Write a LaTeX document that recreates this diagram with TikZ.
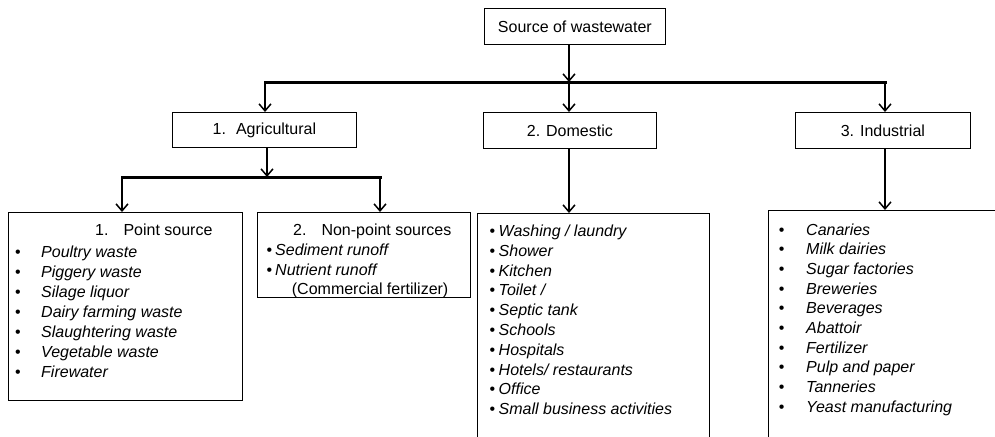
\documentclass[tikz,border=0pt]{standalone}
\usepackage{fontspec}
\setmainfont{Liberation Sans}
\usetikzlibrary{arrows.meta}
\begin{document}
\begin{tikzpicture}[x=1pt,y=-1pt,
  box/.style={draw, line width=0.8pt, inner sep=0pt, anchor=north west},
  lbl/.style={font=\fontsize{16}{19}\selectfont, inner sep=0pt},
  conn/.style={line width=1.5pt, -{Straight Barb[length=7pt,width=12pt]}},
  bar/.style={line width=3pt, line cap=rect},
  item/.style={lbl, anchor=base west},
  dot/.style={lbl, anchor=base},
]
\useasboundingbox (0,0) rectangle (995,436);
\clip (0,0) rectangle (995,436);

% top level
\node[box, lbl, minimum width=181, minimum height=36] (src) at (484,8) {Source of wastewater};
\coordinate (j0) at (569,82);
\coordinate (jl) at (265,82);
\coordinate (jr) at (885,82);
\draw[conn] (src.south -| j0) -- (j0);
\draw[bar] (jl) -- (jr);

% second level
\node[box, lbl, minimum width=184, minimum height=35] (agr) at (172,112) {1.\hspace{10pt}Agricultural};
\node[box, lbl, minimum width=173, minimum height=36] (dom) at (483,112) {2. Domestic};
\node[box, lbl, minimum width=175, minimum height=36] (ind) at (795,112) {3. Industrial};
\draw[conn] (jl) -- (jl |- agr.north);
\draw[conn] (j0) -- (j0 |- dom.north);
\draw[conn] (jr) -- (jr |- ind.north);

% agricultural split
\coordinate (k0) at (267,177);
\coordinate (kl) at (122,177);
\coordinate (kr) at (380,177);
\draw[conn] (agr.south -| k0) -- (k0);
\draw[bar] (kl) -- (kr);

% bottom boxes
\node[box, minimum width=234, minimum height=188] (ps) at (8,212) {};
\node[box, minimum width=213, minimum height=85] (nps) at (257,212) {};
\node[box, minimum width=232, minimum height=260] (dl) at (477,213) {};
\node[box, minimum width=260, minimum height=260] (il) at (768,210) {};
\draw[conn] (kl) -- (kl |- ps.north);
\draw[conn] (kr) -- (kr |- nps.north);
\draw[conn] (dom.south -| j0) -- (j0 |- dl.north);
\draw[conn] (ind.south -| jr) -- (jr |- il.north);

% point source list
\node[item] (pst) at (95,235) {1.\hspace{15pt}Point source};
\foreach \t [count=\i] in {Poultry waste, Piggery waste, Silage liquor, Dairy farming waste, Slaughtering waste, Vegetable waste, Firewater} {
  \node[dot] (psb\i) at (18,{237.5+20*\i}) {\textbullet};
  \node[item] (psi\i) at (41,{237.5+20*\i}) {\textit{\t}};
}

% non-point list
\node[item] (npt) at (293,235) {2.\hspace{15pt}Non-point sources};
\node[dot] (npb1) at (269.5,255.5) {\textbullet};
\node[item] (npi1) at (275,255.5) {\textit{Sediment runoff}};
\node[dot] (npb2) at (269.5,275) {\textbullet};
\node[item] (npi2) at (275,275) {\textit{Nutrient runoff}};
\node[item] (npi3) at (291.7,294.5) {(Commercial fertilizer)};

% domestic list
\foreach \t [count=\i] in {Washing / laundry, Shower, Kitchen, Toilet /, Septic tank, Schools, Hospitals, Hotels/ restaurants, Office, Small business activities} {
  \node[dot] (dlb\i) at (492.5,{216.7+19.8*\i}) {\textbullet};
  \node[item] (dli\i) at (498.5,{216.7+19.8*\i}) {\textit{\t}};
}

% industrial list
\foreach \t [count=\i] in {Canaries, Milk dairies, Sugar factories, Breweries, Beverages, Abattoir, Fertilizer, Pulp and paper, Tanneries, Yeast manufacturing} {
  \node[dot] (ilb\i) at (781.7,{215.3+19.7*\i}) {\textbullet};
  \node[item] (ili\i) at (806,{215.3+19.7*\i}) {\textit{\t}};
}
\end{tikzpicture}
\end{document}
